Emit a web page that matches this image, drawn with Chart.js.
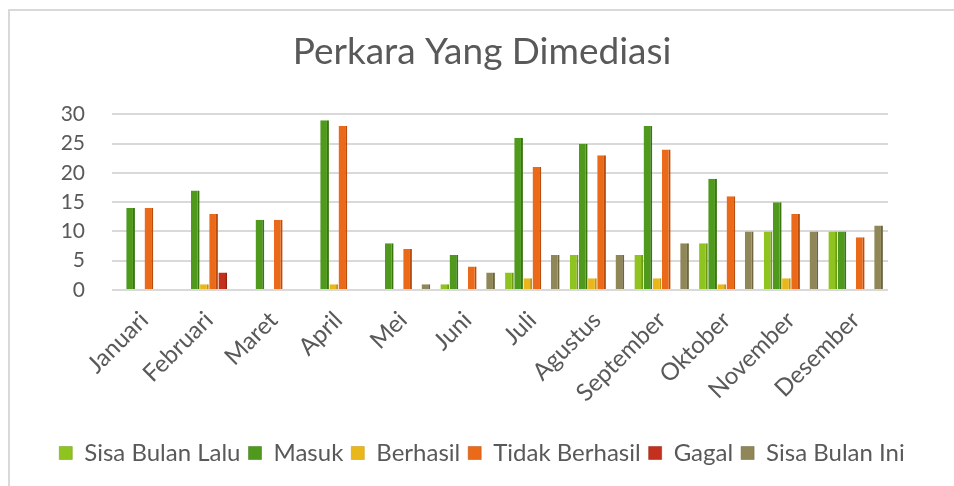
<!DOCTYPE html>
<html>
<head>
<meta charset="utf-8">
<script src="https://cdn.jsdelivr.net/npm/chart.js@4/dist/chart.umd.min.js"></script>
<style>
  html, body { margin: 0; padding: 0; background: #fff; }
  #wrap { position: relative; width: 954px; height: 486px; }
  #frame { position: absolute; left: 8px; top: 9px; right: -10px; bottom: -10px;
           border-left: 2px solid #d9d9d9; border-top: 2px solid #d9d9d9; }
  canvas { position: absolute; left: 0; top: 0; }
</style>
</head>
<body>
<div id="wrap">
  <div id="frame"></div>
  <canvas id="grafik" width="954" height="486"></canvas>
</div>
<script>
// data bulanan perkara yang dimediasi
const bulan = ['Januari', 'Februari', 'Maret', 'April', 'Mei', 'Juni', 'Juli',
  'Agustus', 'September', 'Oktober', 'November', 'Desember'];
const sisaBulanLalu = [0, 0, 0, 0, 0, 1, 3, 6, 6, 8, 10, 10];
const masuk = [14, 17, 12, 29, 8, 6, 26, 25, 28, 19, 15, 10];
const berhasil = [0, 1, 0, 1, 0, 0, 2, 2, 2, 1, 2, 0];
const tidakBerhasil = [14, 13, 12, 28, 7, 4, 21, 23, 24, 16, 13, 9];
const gagal = [0, 3, 0, 0, 0, 0, 0, 0, 0, 0, 0, 0];
const sisaBulanIni = [0, 0, 0, 0, 1, 3, 6, 6, 8, 10, 10, 11];
const yTicks = [0, 5, 10, 15, 20, 25, 30];

const fontName = "Lato, 'Open Sans', sans-serif";
const grey = '#595959';

function seri(label, data, warna, gelap) {
  return {
    label: label,
    data: data,
    backgroundColor: warna,
    borderColor: gelap,
    borderWidth: { top: 0, left: 0, bottom: 0, right: 2 },
    borderSkipped: false,
    categoryPercentage: 0.85,
    barPercentage: 0.95,
    yAxisID: 'y'
  };
}

const ctx = document.getElementById('grafik').getContext('2d');

new Chart(ctx, {
  type: 'bar',
  data: {
    labels: bulan,
    datasets: [
      seri('Sisa Bulan Lalu', sisaBulanLalu, '#8fc31f', '#6f9a14'),
      seri('Masuk', masuk, '#4f9a1c', '#3a7512'),
      seri('Berhasil', berhasil, '#eab71a', '#c29210'),
      seri('Tidak Berhasil', tidakBerhasil, '#ea6a1a', '#b84d0e'),
      seri('Gagal', gagal, '#c3301d', '#952212'),
      seri('Sisa Bulan Ini', sisaBulanIni, '#8f8758', '#6c6540')
    ]
  },
  options: {
    responsive: false,
    animation: false,
    layout: { padding: { left: 10, right: 0, top: 0, bottom: 11 } },
    plugins: {
      title: {
        display: true,
        text: 'Perkara Yang Dimediasi',
        color: grey,
        font: { family: fontName, size: 37, weight: 'normal' },
        padding: { top: 30, bottom: 40 }
      },
      legend: {
        position: 'bottom',
        labels: {
          color: grey,
          font: { family: fontName, size: 24 },
          boxWidth: 13,
          boxHeight: 13,
          padding: 8
        }
      },
      tooltip: { enabled: false }
    },
    scales: {
      x: {
        grid: { display: false },
        border: { display: false },
        ticks: {
          color: grey,
          font: { family: fontName, size: 24 },
          minRotation: 45,
          maxRotation: 45,
          padding: 8
        },
        afterFit: function (scale) { scale.height = 143; }
      },
      y: {
        min: 0,
        max: 30,
        afterBuildTicks: function (scale) {
          scale.ticks = yTicks.map(v => ({ value: v }));
        },
        grid: { color: '#d9d9d9', lineWidth: 2, drawTicks: false },
        border: { display: false },
        ticks: {
          color: grey,
          font: { family: fontName, size: 21 },
          padding: 27
        },
        afterFit: function (scale) { scale.width = 102; }
      },
      // ruang kosong di kanan area plot
      kanan: {
        position: 'right',
        grid: { display: false },
        border: { display: false },
        ticks: { display: false },
        afterFit: function (scale) { scale.width = 66; }
      }
    }
  }
});
</script>
</body>
</html>
